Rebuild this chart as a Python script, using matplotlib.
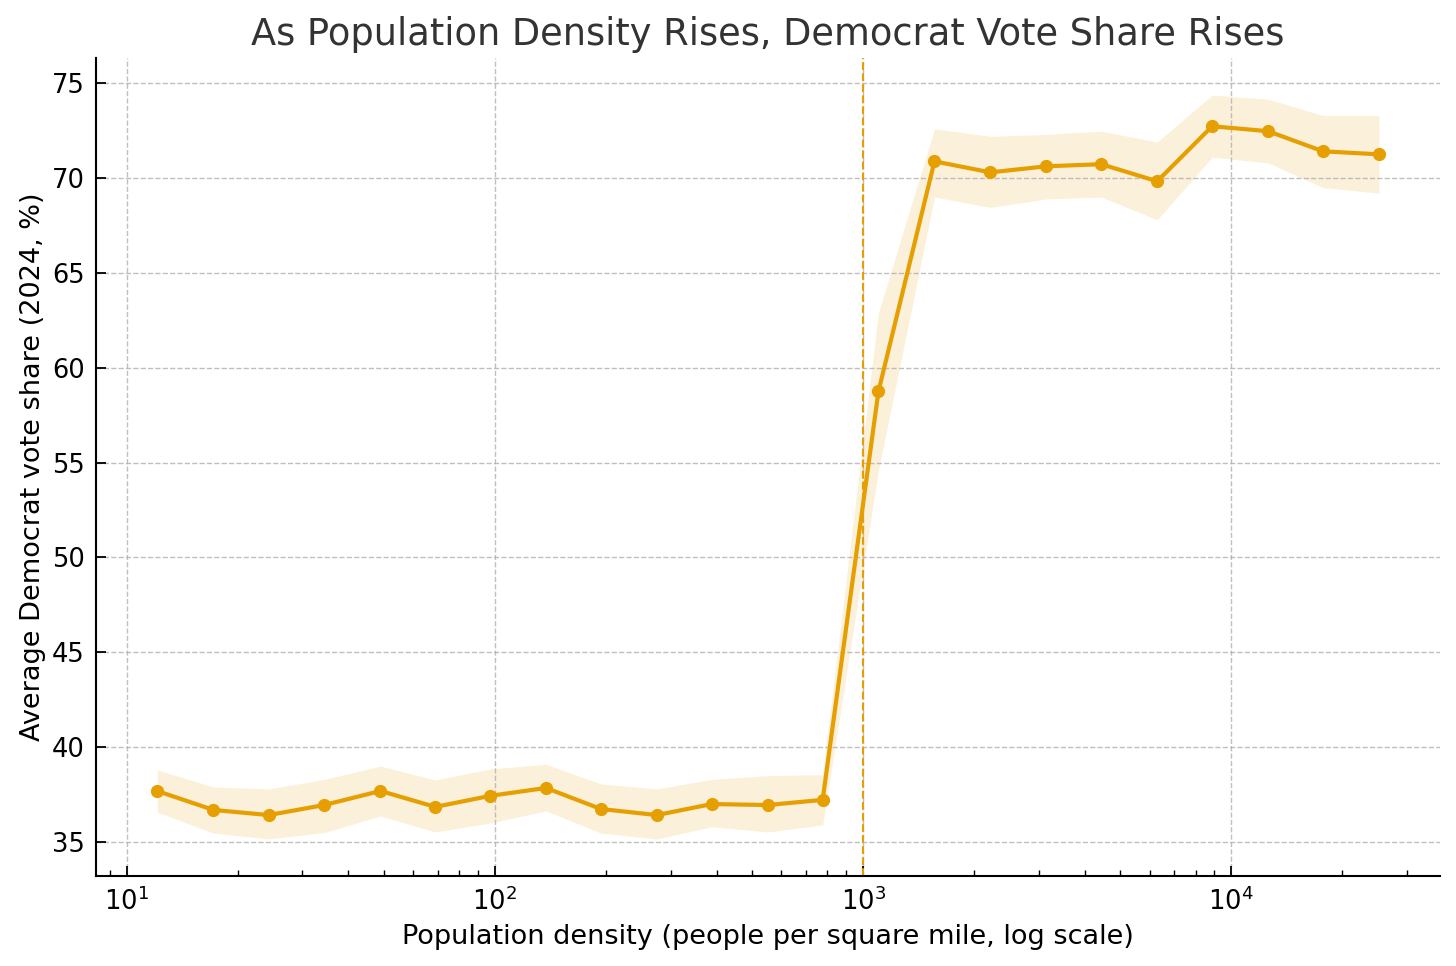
import numpy as np
import matplotlib.pyplot as plt

# densidade (pessoas por milha quadrada) e voto democrata médio
densidade = [12.1, 17.2, 24.3, 34.4, 48.9, 68.9, 96.9, 137.6, 194.1, 275.3, 388.2, 550.7,
             776.6, 1101, 1563, 2218, 3147, 4437, 6295, 8874, 12590, 17750, 25180]
voto_medio = [37.69, 36.69, 36.42, 36.95, 37.69, 36.85, 37.43, 37.85, 36.74, 36.42, 37.0, 36.95,
              37.22, 58.75, 70.88, 70.30, 70.62, 70.73, 69.83, 72.73, 72.47, 71.41, 71.25]
limite_sup = [38.8, 37.9, 37.8, 38.3, 39.0, 38.27, 38.85, 39.1, 38.06, 37.8, 38.3, 38.5,
              38.55, 62.9, 72.6, 72.2, 72.3, 72.47, 71.9, 74.37, 74.16, 73.3, 73.3]
limite_inf = [36.58, 35.47, 35.16, 35.5, 36.37, 35.53, 36.0, 36.64, 35.47, 35.16, 35.8, 35.53,
              35.9, 54.6, 69.0, 68.45, 68.9, 69.0, 67.8, 71.1, 70.8, 69.5, 69.2]
limiar = 1000

cor = '#E69F00'

fig = plt.figure(figsize=(14.56, 9.66), dpi=100)
ax = fig.add_axes([0.066, 0.093, 0.923, 0.847])

ax.fill_between(densidade, limite_inf, limite_sup, color=cor, alpha=0.15, linewidth=0)
ax.plot(densidade, voto_medio, color=cor, linewidth=3.0, marker='o', markersize=8.5)
ax.axvline(limiar, color=cor, linestyle='--', linewidth=1.5)

ax.set_xscale('log')
ax.set_title('As Population Density Rises, Democrat Vote Share Rises', fontsize=26.5, color='#333333', pad=9)
ax.set_xlabel('Population density (people per square mile, log scale)', fontsize=19.5, labelpad=6)
ax.set_ylabel('Average Democrat vote share (2024, %)', fontsize=19.5, labelpad=4)
ax.tick_params(axis='both', which='both', direction='in', labelsize=18.5)
ax.tick_params(axis='both', which='major', length=7, width=1.3, pad=8)
ax.tick_params(axis='x', which='minor', length=4, width=1.0)
ax.grid(True, which='major', linestyle='--', color='#b0b0b0', linewidth=1.0, alpha=0.8)

for lado in ['top', 'right']:
    ax.spines[lado].set_visible(False)
for lado in ['left', 'bottom']:
    ax.spines[lado].set_linewidth(1.5)

plt.savefig('out.png', dpi=100)
